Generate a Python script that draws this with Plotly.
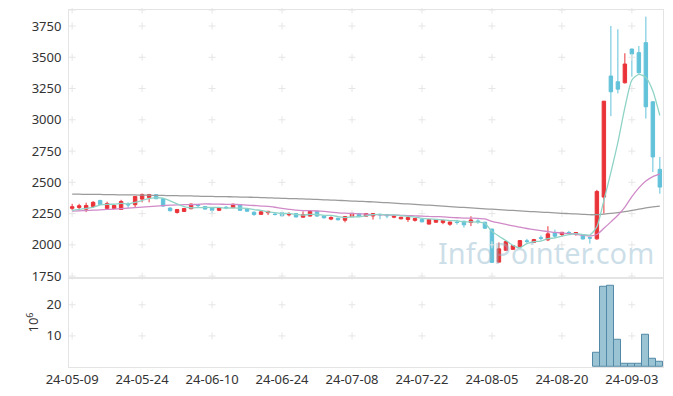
import plotly.graph_objects as go
from plotly.subplots import make_subplots

dates = (
    ["24-05-" + d for d in ["09", "10", "13", "14", "16", "17", "20", "21", "22", "23", "24", "27", "28", "29", "30", "31"]]
    + ["24-06-" + d for d in ["03", "04", "05", "07", "10", "11", "12", "13", "14", "17", "18", "19", "20", "21", "24", "25", "26", "27", "28"]]
    + ["24-07-" + d for d in ["01", "02", "03", "04", "05", "08", "09", "10", "11", "12", "15", "16", "17", "18", "19", "22", "23", "24", "25", "26", "29", "30", "31"]]
    + ["24-08-" + d for d in ["01", "02", "05", "06", "07", "08", "09", "12", "13", "14", "16", "19", "20", "21", "22", "23", "26", "27", "28", "29", "30"]]
    + ["24-09-" + d for d in ["02", "03", "04", "05", "06", "09"]]
)

opens = [2292, 2299, 2285, 2307, 2355, 2291, 2291, 2283, 2325, 2321,
         2366, 2379, 2401, 2369, 2294, 2259, 2267, 2289, 2318, 2307,
         2294, 2276, 2301, 2297, 2323, 2287, 2261, 2244, 2257, 2246,
         2257, 2240, 2250, 2221, 2230, 2268, 2232, 2206, 2213, 2197,
         2226, 2251, 2229, 2231, 2244, 2243, 2221, 2208, 2203, 2196,
         2203, 2166, 2181, 2178, 2165, 2182, 2189, 2179, 2191, 2181,
         2126, 1862, 1957, 1964, 1985, 2032, 2020, 2057, 2040, 2096,
         2083, 2099, 2088, 2080, 2058, 2048, 2382, 3350, 3304, 3296,
         3566, 3537, 3617, 3144, 2604]
highs = [2328, 2328, 2337, 2350, 2360, 2345, 2318, 2360, 2340, 2390,
         2410, 2406, 2405, 2372, 2300, 2285, 2293, 2330, 2328, 2310,
         2297, 2297, 2310, 2330, 2326, 2290, 2268, 2268, 2272, 2255,
         2260, 2260, 2252, 2268, 2272, 2272, 2235, 2228, 2216, 2230,
         2256, 2255, 2254, 2253, 2250, 2246, 2238, 2224, 2222, 2213,
         2206, 2206, 2206, 2199, 2185, 2200, 2192, 2229, 2205, 2185,
         2130, 2020, 2030, 1998, 2038, 2048, 2048, 2075, 2149, 2122,
         2104, 2112, 2100, 2082, 2062, 2440, 3150, 3751, 3724, 3532,
         3568, 3590, 3825, 3148, 2703]
lows = [2276, 2276, 2262, 2296, 2318, 2283, 2288, 2280, 2296, 2299,
        2340, 2340, 2365, 2305, 2268, 2250, 2265, 2285, 2300, 2283,
        2248, 2270, 2285, 2294, 2272, 2265, 2232, 2240, 2238, 2235,
        2228, 2228, 2220, 2218, 2228, 2226, 2212, 2197, 2197, 2180,
        2222, 2222, 2226, 2202, 2205, 2213, 2213, 2205, 2184, 2186,
        2180, 2163, 2178, 2165, 2152, 2162, 2138, 2150, 2168, 2128,
        1855, 1858, 1952, 1960, 1982, 2012, 2015, 2035, 2030, 2056,
        2066, 2083, 2073, 2043, 2010, 2040, 2249, 3029, 3211, 3290,
        3344, 3370, 3010, 2582, 2409]
closes = [2305, 2313, 2315, 2340, 2323, 2331, 2315, 2347, 2320, 2387,
          2403, 2403, 2369, 2310, 2273, 2283, 2291, 2326, 2314, 2286,
          2276, 2294, 2297, 2325, 2276, 2269, 2243, 2264, 2268, 2243,
          2232, 2250, 2223, 2242, 2268, 2230, 2216, 2219, 2200, 2227,
          2252, 2226, 2251, 2250, 2240, 2231, 2229, 2221, 2219, 2210,
          2184, 2203, 2203, 2196, 2183, 2179, 2160, 2199, 2187, 2133,
          1860, 1968, 2026, 1994, 2034, 2028, 2042, 2053, 2088, 2069,
          2100, 2096, 2098, 2047, 2054, 2427, 3149, 3224, 3245, 3446,
          3526, 3376, 3104, 2703, 2462]

# volume in millions
volume = [0.12, 0.10, 0.14, 0.12, 0.15, 0.11, 0.10, 0.13, 0.10, 0.18,
          0.16, 0.14, 0.12, 0.15, 0.13, 0.10, 0.09, 0.12, 0.10, 0.10,
          0.09, 0.08, 0.08, 0.11, 0.10, 0.09, 0.10, 0.08, 0.08, 0.07,
          0.08, 0.07, 0.08, 0.09, 0.10, 0.09, 0.08, 0.07, 0.07, 0.09,
          0.10, 0.08, 0.07, 0.08, 0.07, 0.07, 0.06, 0.07, 0.07, 0.06,
          0.07, 0.09, 0.07, 0.07, 0.08, 0.06, 0.08, 0.09, 0.07, 0.10,
          0.25, 0.18, 0.14, 0.10, 0.12, 0.08, 0.09, 0.08, 0.14, 0.10,
          0.08, 0.07, 0.07, 0.09, 0.12, 4.5, 25.7, 26.1, 8.9, 1.2,
          0.9, 0.9, 10.5, 2.5, 1.8]

# moving-average values before a full window exists
ma5_lead = [2275, 2283, 2292, 2300]
ma20_lead = [2270, 2272, 2274, 2277, 2280, 2283, 2286, 2290, 2294, 2298,
             2302, 2306, 2310, 2314, 2317, 2319, 2321, 2322, 2324]
# long moving average
ma120 = [2406, 2405, 2404, 2404, 2403, 2402, 2401, 2400, 2400, 2399,
         2398, 2397, 2396, 2395, 2394, 2393, 2392, 2391, 2389, 2388,
         2387, 2386, 2385, 2384, 2382, 2381, 2380, 2378, 2376, 2374,
         2372, 2370, 2369, 2367, 2365, 2363, 2360, 2358, 2356, 2353,
         2350, 2348, 2346, 2343, 2340, 2337, 2334, 2330, 2327, 2324,
         2320, 2317, 2313, 2309, 2306, 2302, 2299, 2295, 2292, 2288,
         2285, 2281, 2278, 2275, 2271, 2268, 2265, 2262, 2259, 2256,
         2252, 2250, 2247, 2244, 2241, 2242, 2246, 2251, 2258, 2266,
         2275, 2285, 2295, 2303, 2310]

y_ticks = [1750, 2000, 2250, 2500, 2750, 3000, 3250, 3500, 3750]
vol_ticks = [10, 20]
x_tick_idx = [0, 10, 20, 30, 40, 50, 60, 70, 80]
y_range = [1737, 3878]
vol_range = [0, 28.7]


def rolling(vals, n, lead):
    out = []
    for i in range(len(vals)):
        if i >= n - 1:
            out.append(sum(vals[i - n + 1:i + 1]) / n)
        else:
            out.append(lead[i])
    return out


ma5 = rolling(closes, 5, ma5_lead)
ma20 = rolling(closes, 20, ma20_lead)

RED = "#ea3339"
BLUE = "#62c2d9"
TEAL = "#8ed3c6"
PINK = "#d08ac8"
GREY = "#9b9b9b"
GRIDC = "#e6e6e6"
AXC = "#e4e4e4"
FONT = "Noto Sans"

fig = make_subplots(rows=2, cols=1, shared_xaxes=True, vertical_spacing=0,
                    row_heights=[0.75, 0.25])

xt = [dates[i] for i in x_tick_idx]
grid_main = y_ticks + [y_range[1]]

# grid crosses
fig.add_trace(go.Scatter(
    x=[d for d in xt for _ in grid_main], y=[v for _ in xt for v in grid_main],
    mode="markers", marker=dict(symbol="cross-thin", size=5, line=dict(color=GRIDC, width=1)),
    hoverinfo="skip", showlegend=False, cliponaxis=False), row=1, col=1)
fig.add_trace(go.Scatter(
    x=[d for d in xt for _ in vol_ticks], y=[v for _ in xt for v in vol_ticks],
    mode="markers", marker=dict(symbol="cross-thin", size=5, line=dict(color=GRIDC, width=1)),
    hoverinfo="skip", showlegend=False, cliponaxis=False), row=2, col=1)

fig.add_trace(go.Candlestick(
    x=dates, open=opens, high=highs, low=lows, close=closes,
    increasing=dict(line=dict(color=RED, width=1), fillcolor=RED),
    decreasing=dict(line=dict(color=BLUE, width=1), fillcolor=BLUE),
    whiskerwidth=0, showlegend=False, hoverinfo="skip"), row=1, col=1)

for vals, col in [(ma120, GREY), (ma20, PINK), (ma5, TEAL)]:
    fig.add_trace(go.Scatter(
        x=dates, y=vals, mode="lines",
        line=dict(color=col, width=1.3, shape="spline", smoothing=0.6),
        hoverinfo="skip", showlegend=False), row=1, col=1)

visible = [v >= 0.5 for v in volume]
fig.add_trace(go.Bar(
    x=dates, y=volume,
    marker=dict(color=["#9ac3d4" if s else "rgba(0,0,0,0)" for s in visible],
                line=dict(color="#5289a6", width=[1 if s else 0 for s in visible])),
    hoverinfo="skip", showlegend=False), row=2, col=1)

fig.add_annotation(
    x=0.803, y=0.322, xref="paper", yref="paper", xanchor="center", yanchor="middle",
    text="InfoPointer.com", showarrow=False,
    font=dict(family=FONT, size=29, color="rgba(140,182,204,0.45)"))

fig.add_annotation(
    x=-0.062, y=0.125, xref="paper", yref="paper", xanchor="center", yanchor="middle",
    text="10<sup>6</sup>", textangle=-90, showarrow=False,
    font=dict(family=FONT, size=13, color="#333333"))

axis_common = dict(showline=True, mirror=True, linecolor=AXC, linewidth=1,
                   showgrid=False, zeroline=False, ticks="", automargin=False)
fig.update_xaxes(type="category", categoryorder="array", categoryarray=dates,
                 range=[-0.45, 84.45], **axis_common)
fig.update_xaxes(showticklabels=False, rangeslider=dict(visible=False), row=1, col=1)
fig.update_xaxes(tickmode="array", tickvals=xt, ticktext=xt,
                 tickfont=dict(family=FONT, size=13, color="#333333"), tickangle=0, row=2, col=1)
fig.update_yaxes(**axis_common)
fig.update_yaxes(range=y_range, tickmode="array", tickvals=y_ticks,
                 tickfont=dict(family=FONT, size=13, color="#333333"),
                 ticklabelstandoff=4, row=1, col=1)
fig.update_yaxes(range=vol_range, tickmode="array", tickvals=vol_ticks,
                 tickfont=dict(family=FONT, size=13, color="#333333"),
                 ticklabelstandoff=4, row=2, col=1)

# page body adds an 8px margin, so the figure is 8px smaller than the window
fig.update_layout(
    width=665, height=388,
    margin=dict(l=61, r=10, t=2, b=29),
    paper_bgcolor="white", plot_bgcolor="white",
    bargap=0, showlegend=False,
)

fig.write_html("out.html")
